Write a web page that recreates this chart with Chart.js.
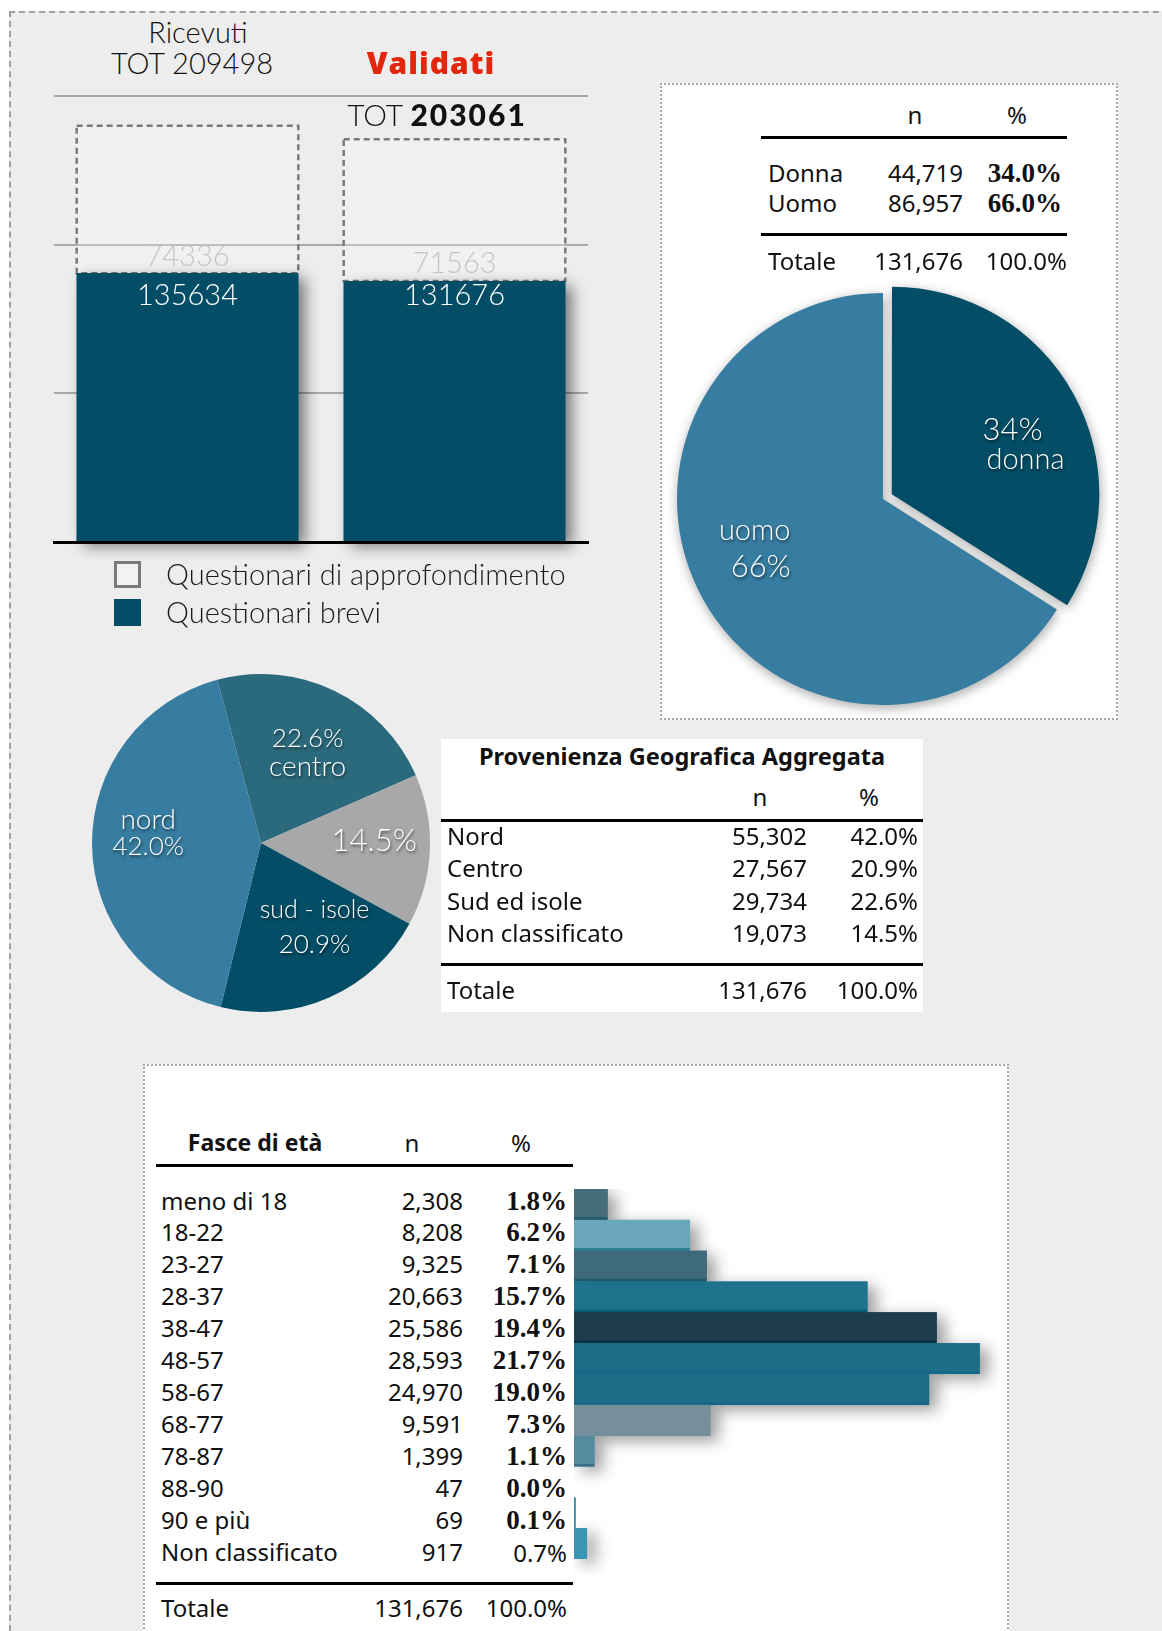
<!DOCTYPE html>
<html>
<head>
<meta charset="utf-8">
<script src="https://cdn.jsdelivr.net/npm/chart.js@4.4.1/dist/chart.umd.min.js"></script>
<style>
html, body { margin: 0; padding: 0; background: #fff; }
#page { position: relative; width: 1162px; height: 1631px; overflow: hidden; background: #fff; }
#frame { position: absolute; left: 9px; top: 11px; width: 1200px; height: 1700px; background: #ededed;
         border: 2px dashed #a0a0a0; box-sizing: border-box; }
.box { position: absolute; background: #fff; box-sizing: border-box; }
.dot { border: 2px dotted #a8a8a8; }
.t { position: absolute; white-space: nowrap; line-height: 1; color: #111; }
.rule { position: absolute; height: 3px; background: #000; }
canvas { position: absolute; }
</style>
</head>
<body>
<div id="page">
  <div id="frame"></div>
  <div class="box dot" style="left:660px;top:83px;width:458px;height:637px;"></div>
  <div class="box" style="left:441px;top:739px;width:482px;height:273px;"></div>
  <div class="box dot" style="left:143px;top:1064px;width:866px;height:620px;"></div>
  <canvas id="cBar" width="560" height="480" style="left:40px;top:80px;"></canvas>
  <canvas id="cGender" width="450" height="450" style="left:658px;top:274px;"></canvas>
  <canvas id="cGeo" width="380" height="380" style="left:71px;top:653px;"></canvas>
  <canvas id="cAge" width="430" height="386" style="left:574px;top:1189px;"></canvas>
</div>
<script>
// questionari (Ricevuti / Validati)
const barCats = ['Ricevuti', 'Validati'];
const brevi = [135634, 131676];
const approf = [74336, 71563];
const totRicevuti = 209498;
const totValidati = 203061;

// genere
const genderLabels = ['Donna', 'Uomo'];
const genderN = [44719, 86957];
const genderPct = [34.0, 66.0];

// provenienza (tabella)
const geoLabels = ['Nord', 'Centro', 'Sud ed isole', 'Non classificato'];
const geoN = [55302, 27567, 29734, 19073];
const geoPct = [42.0, 20.9, 22.6, 14.5];
// provenienza (torta, in senso orario dall'alto)
const geoPieLabels = ['centro', '', 'sud - isole', 'nord'];
const geoPiePct = [22.6, 14.5, 20.9, 42.0];

// fasce di eta
const ageLabels = ['meno di 18', '18-22', '23-27', '28-37', '38-47', '48-57', '58-67',
                   '68-77', '78-87', '88-90', '90 e più', 'Non classificato'];
const ageN = [2308, 8208, 9325, 20663, 25586, 28593, 24970, 9591, 1399, 47, 69, 917];
const agePct = [1.8, 6.2, 7.1, 15.7, 19.4, 21.7, 19.0, 7.3, 1.1, 0.0, 0.1, 0.7];

const DARK = '#034e66';
const MID = '#377da1';
const F_TAB = "24px 'Noto Sans', sans-serif";
const F_TAB_B = "bold 23.5px 'Noto Sans', sans-serif";
const F_PCT = "bold 27px 'Liberation Serif', serif";
const F_LIGHT = "300 29px Lato, sans-serif";

const page = document.getElementById('page');
const fmt = v => v.toLocaleString('en-US');

function put(text, x, y, align, font, color) {
    const d = document.createElement('div');
    d.className = 't';
    d.textContent = text;
    d.style.font = font;
    if (color) d.style.color = color;
    d.style.left = x + 'px';
    d.style.top = y + 'px';
    const tx = align === 'right' ? '-100%' : align === 'center' ? '-50%' : '0';
    d.style.transform = `translate(${tx}, -50%)`;
    page.appendChild(d);
    return d;
}
function rule(x, y, w) {
    const d = document.createElement('div');
    d.className = 'rule';
    d.style.left = x + 'px'; d.style.top = y + 'px'; d.style.width = w + 'px';
    page.appendChild(d);
}

// shadow under bars, drawn from the element geometry before the bars themselves
const barShadow = {
    id: 'barShadow',
    beforeDatasetDraw(chart, args, opts) {
        const ds = chart.data.datasets[args.index];
        if (!ds.shadow) return;
        const ctx = chart.ctx;
        ctx.save();
        ctx.shadowColor = opts.color;
        ctx.shadowBlur = opts.blur;
        ctx.shadowOffsetX = opts.dx;
        ctx.shadowOffsetY = opts.dy;
        args.meta.data.forEach(el => {
            const p = el.getProps(['x', 'y', 'base', 'width', 'height'], true);
            if (Math.abs(p.base - (el.horizontal ? p.x : p.y)) < 3) return;
            ctx.fillStyle = el.options.backgroundColor;
            if (el.horizontal) {
                ctx.fillRect(Math.min(p.x, p.base), p.y - p.height / 2, Math.abs(p.x - p.base), p.height);
            } else {
                ctx.fillRect(p.x - p.width / 2, Math.min(p.y, p.base), p.width, Math.abs(p.base - p.y));
            }
        });
        ctx.restore();
    }
};

const dashedBox = {
    id: 'dashedBox',
    afterDatasetDraw(chart, args) {
        const ds = chart.data.datasets[args.index];
        if (!ds.dashed) return;
        const ctx = chart.ctx;
        ctx.save();
        ctx.setLineDash([6, 4]);
        ctx.strokeStyle = '#7a7a7a';
        ctx.lineWidth = 2.5;
        args.meta.data.forEach(el => {
            const p = el.getProps(['x', 'y', 'base', 'width'], true);
            ctx.strokeRect(p.x - p.width / 2, p.y, p.width, p.base - p.y);
        });
        ctx.restore();
    }
};

const barLabels = {
    id: 'barLabels',
    afterDatasetsDraw(chart) {
        const ctx = chart.ctx;
        ctx.save();
        ctx.font = F_LIGHT;
        ctx.textAlign = 'center';
        ctx.textBaseline = 'middle';
        const solid = chart.getDatasetMeta(0).data;
        const topMost = Math.min(...solid.map(el => el.getProps(['y'], true).y));
        chart.data.datasets.forEach((ds, di) => {
            chart.getDatasetMeta(di).data.forEach((el, i) => {
                const p = el.getProps(['x', 'y', 'base'], true);
                if (ds.dashed) {
                    ctx.fillStyle = '#c4c4c4';
                    ctx.fillText(String(ds.data[i]), p.x, p.base - 17);
                } else {
                    ctx.fillStyle = '#ffffff';
                    ctx.fillText(String(ds.data[i]), p.x, topMost + 22);
                }
            });
        });
        ctx.restore();
    }
};

const pieShadow = {
    id: 'pieShadow',
    beforeDatasetsDraw(chart, args, opts) {
        if (!opts.on) return;
        const ctx = chart.ctx;
        ctx.save();
        ctx.shadowColor = 'rgba(0,0,0,0.35)';
        ctx.shadowBlur = 12;
        ctx.shadowOffsetX = 1;
        ctx.shadowOffsetY = 3;
    },
    afterDatasetsDraw(chart, args, opts) {
        if (opts.on) chart.ctx.restore();
    }
};

const sliceLabels = {
    id: 'sliceLabels',
    afterDatasetsDraw(chart, args, opts) {
        const ctx = chart.ctx;
        const meta = chart.getDatasetMeta(0);
        ctx.save();
        ctx.textAlign = 'center';
        ctx.textBaseline = 'middle';
        ctx.fillStyle = '#fff';
        ctx.shadowColor = 'rgba(0,0,0,0.6)';
        ctx.shadowBlur = 3;
        ctx.shadowOffsetX = 1;
        ctx.shadowOffsetY = 2;
        meta.data.forEach((el, i) => {
            const p = el.getProps(['x', 'y', 'startAngle', 'endAngle', 'outerRadius'], true);
            const a = (p.startAngle + p.endAngle) / 2 + opts.da[i] * Math.PI / 180;
            const cx = p.x + Math.cos(a) * p.outerRadius * opts.r[i];
            const cy = p.y + Math.sin(a) * p.outerRadius * opts.r[i];
            const lines = opts.lines[i];
            lines.forEach((ln, k) => {
                ctx.font = opts.fonts[i][k];
                const dx = opts.shift ? opts.shift[i][k] : 0;
                ctx.fillText(ln, cx + dx, cy + (k - (lines.length - 1) / 2) * opts.lh[i]);
            });
        });
        ctx.restore();
    }
};

// ---------- bar chart: questionari ----------
const barChart = new Chart(document.getElementById('cBar'), {
    type: 'bar',
    data: {
        labels: barCats,
        datasets: [
            { label: 'Questionari brevi', data: brevi, backgroundColor: DARK, stack: 's', shadow: true },
            { label: 'Questionari di approfondimento', data: approf, backgroundColor: 'rgba(255,255,255,0.25)', stack: 's', dashed: true }
        ]
    },
    options: {
        responsive: false,
        animation: false,
        layout: { padding: { left: 14, right: 12, top: 16, bottom: 18 } },
        datasets: { bar: { barPercentage: 0.83, categoryPercentage: 1 } },
        plugins: {
            legend: { display: false },
            tooltip: { enabled: false },
            barShadow: { color: 'rgba(0,0,0,0.5)', blur: 14, dx: 7, dy: 5 }
        },
        scales: {
            x: {
                stacked: true,
                grid: { display: false, drawTicks: false },
                ticks: { display: false },
                border: { display: true, color: '#000', width: 3 }
            },
            y: {
                stacked: true, min: 0, max: 225000,
                ticks: { display: false, stepSize: 75000 },
                grid: { drawTicks: false, lineWidth: 2, color: c => c.tick && c.tick.value === 0 ? 'rgba(0,0,0,0)' : '#a8a8a8' },
                border: { display: false }
            }
        }
    },
    plugins: [barShadow, dashedBox, barLabels]
});

put(barCats[0], 198, 31, 'center', F_LIGHT);
put('TOT ' + totRicevuti, 192, 62, 'center', F_LIGHT);
put(barCats[1], 431, 62, 'center', "800 30px 'Open Sans', sans-serif", '#e3260c').style.letterSpacing = '1px';
const totV = put('TOT ', 437, 114, 'center', "300 30px Lato, sans-serif");
const totB = document.createElement('span');
totB.textContent = totValidati;
totB.style.font = "900 30px Lato, sans-serif";
totB.style.letterSpacing = '2px';
totV.appendChild(totB);

// legenda
barChart.data.datasets.slice().reverse().forEach((ds, i) => {
    const sw = document.createElement('div');
    sw.style.cssText = 'position:absolute;left:114px;width:27px;height:27px;box-sizing:border-box;';
    sw.style.top = (561 + i * 38) + 'px';
    if (ds.dashed) { sw.style.border = '3px solid #7a7a7a'; sw.style.background = '#f2f2f2'; }
    else sw.style.background = ds.backgroundColor;
    page.appendChild(sw);
    put(ds.label, 166, 573 + i * 38, 'left', "300 29px Lato, sans-serif", '#1a1a1a');
});

// ---------- genere ----------
new Chart(document.getElementById('cGender'), {
    type: 'pie',
    data: {
        labels: genderLabels,
        datasets: [{ data: genderPct, backgroundColor: [DARK, MID], borderWidth: 0, offset: [40, 0] }]
    },
    options: {
        responsive: false,
        animation: false,
        radius: 206,
        plugins: {
            legend: { display: false },
            tooltip: { enabled: false },
            pieShadow: { on: true },
            sliceLabels: {
                lines: [[Math.round(genderPct[0]) + '%', genderLabels[0].toLowerCase()],
                        [genderLabels[1].toLowerCase(), Math.round(genderPct[1]) + '%']],
                fonts: [["300 31px Lato", "300 29px Lato"], ["300 29px Lato", "300 31px Lato"]],
                shift: [[-13, 0], [-3, 3]],
                r: [0.74, 0.655], da: [8, 7], lh: [30, 36]
            }
        }
    },
    plugins: [pieShadow, sliceLabels]
});

put('n', 915, 114, 'center', F_TAB);
put('%', 1017, 114, 'center', F_TAB);
rule(761, 136, 306);
genderLabels.forEach((lab, i) => {
    const y = 172 + i * 30;
    put(lab, 768, y, 'left', F_TAB);
    put(fmt(genderN[i]), 963, y, 'right', F_TAB);
    put(genderPct[i].toFixed(1) + '%', 1062, y + 1, 'right', F_PCT);
});
rule(761, 233, 306);
put('Totale', 768, 260, 'left', F_TAB);
put(fmt(genderN.reduce((a, b) => a + b, 0)), 963, 260, 'right', F_TAB);
put('100.0%', 1067, 260, 'right', F_TAB);

// ---------- provenienza ----------
new Chart(document.getElementById('cGeo'), {
    type: 'pie',
    data: {
        labels: geoPieLabels,
        datasets: [{ data: geoPiePct, backgroundColor: ['#2b6a7c', '#a8a8a8', DARK, MID], borderWidth: 0 }]
    },
    options: {
        responsive: false,
        animation: false,
        radius: 169,
        rotation: -15,
        plugins: {
            legend: { display: false },
            tooltip: { enabled: false },
            pieShadow: { on: false },
            sliceLabels: {
                lines: [[geoPiePct[0].toFixed(1) + '%', geoPieLabels[0]],
                        [geoPiePct[1].toFixed(1) + '%'],
                        [geoPieLabels[2], geoPiePct[2].toFixed(1) + '%'],
                        [geoPieLabels[3], geoPiePct[3].toFixed(1) + '%']],
                fonts: [["300 26px Lato", "300 28px Lato"], ["300 31px Lato"],
                        ["300 25px Lato", "300 26px Lato"], ["300 28px Lato", "300 26px Lato"]],
                r: [0.6, 0.67, 0.59, 0.67], da: [1.7, -3.5, -8.6, 5.5], lh: [29, 0, 34, 27]
            }
        }
    },
    plugins: [pieShadow, sliceLabels]
});

put('Provenienza Geografica Aggregata', 682, 756, 'center', F_TAB_B);
put('n', 760, 796, 'center', F_TAB);
put('%', 869, 796, 'center', F_TAB);
rule(441, 819, 482);
geoLabels.forEach((lab, i) => {
    const y = 835 + i * 32.3;
    put(lab, 447, y, 'left', F_TAB);
    put(fmt(geoN[i]), 807, y, 'right', F_TAB);
    put(geoPct[i].toFixed(1) + '%', 918, y, 'right', F_TAB);
});
rule(441, 963, 482);
put('Totale', 447, 989, 'left', F_TAB);
put(fmt(geoN.reduce((a, b) => a + b, 0)), 807, 989, 'right', F_TAB);
put('100.0%', 918, 989, 'right', F_TAB);

// ---------- fasce di eta ----------
const ageColors = ['#476d7b', '#6aa6bc', '#3f6a7b', '#1f728c', '#1d3d4d', '#1d6d89',
                   '#1f6c87', '#75909b', '#568c9f', '#3b8fab', '#3b8fab', '#3b95b3'];
const ageEdge = ['#24586b', '#2f7f99', '#1c596f', '#0c5b76', '#0b3346', '#14698a',
                 '#15668a', '#75909b', '#3a7087', '#3b8fab', '#3b8fab', '#3b95b3'];

new Chart(document.getElementById('cAge'), {
    type: 'bar',
    data: {
        labels: ageLabels,
        datasets: [{
            data: agePct,
            backgroundColor: ageColors,
            borderColor: ageEdge,
            borderWidth: { top: 0, right: 0, bottom: 3, left: 0 },
            barPercentage: 1,
            categoryPercentage: 1,
            shadow: true
        }]
    },
    options: {
        indexAxis: 'y',
        responsive: false,
        animation: false,
        layout: { padding: { bottom: 16 } },
        plugins: {
            legend: { display: false },
            tooltip: { enabled: false },
            barShadow: { color: 'rgba(0,0,0,0.4)', blur: 16, dx: 8, dy: 5 }
        },
        scales: {
            x: { display: false, min: 0, max: 23 },
            y: { display: false }
        }
    },
    plugins: [barShadow]
});

put('Fasce di età', 255, 1142, 'center', "bold 23px 'Noto Sans', sans-serif");
put('n', 412, 1142, 'center', F_TAB);
put('%', 521, 1142, 'center', F_TAB);
rule(156, 1164, 417);
ageLabels.forEach((lab, i) => {
    const y = 1199.5 + i * 31.94;
    put(lab, 161, y, 'left', F_TAB);
    put(fmt(ageN[i]), 463, y, 'right', F_TAB);
    put(agePct[i].toFixed(1) + '%', 567, y + 1, 'right', i === ageLabels.length - 1 ? F_TAB : F_PCT);
});
rule(156, 1582, 417);
put('Totale', 161, 1607, 'left', F_TAB);
put(fmt(ageN.reduce((a, b) => a + b, 0)), 463, 1607, 'right', F_TAB);
put('100.0%', 567, 1607, 'right', F_TAB);
</script>
</body>
</html>
